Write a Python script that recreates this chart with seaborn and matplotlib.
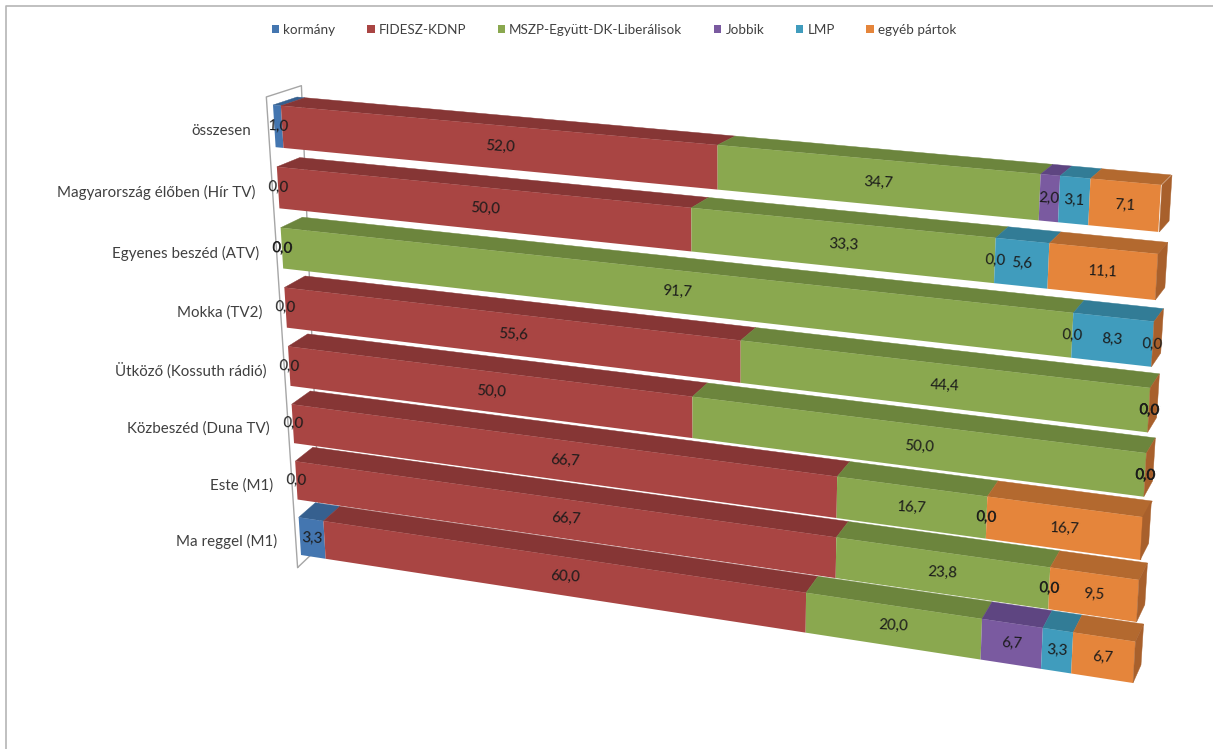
import numpy as np
import pandas as pd
import seaborn as sns
import matplotlib
matplotlib.use('Agg')
import matplotlib.pyplot as plt
from matplotlib.lines import Line2D
from matplotlib.patches import Polygon
from matplotlib.transforms import Transform, IdentityTransform

# Values
shows = ['összesen', 'Magyarország élőben (Hír TV)', 'Egyenes beszéd (ATV)', 'Mokka (TV2)',
         'Ütköző (Kossuth rádió)', 'Közbeszéd (Duna TV)', 'Este (M1)', 'Ma reggel (M1)']
kormany = [1.0, 0.0, 0.0, 0.0, 0.0, 0.0, 0.0, 3.3]
fidesz = [52.0, 50.0, 0.0, 55.6, 50.0, 66.7, 66.7, 60.0]
mszp = [34.7, 33.3, 91.7, 44.4, 50.0, 16.7, 23.8, 20.0]
jobbik = [2.0, 0.0, 0.0, 0.0, 0.0, 0.0, 0.0, 6.7]
lmp = [3.1, 5.6, 8.3, 0.0, 0.0, 0.0, 0.0, 3.3]
egyeb = [7.1, 11.1, 0.0, 0.0, 0.0, 16.7, 9.5, 6.7]

series_names = ['kormány', 'FIDESZ-KDNP', 'MSZP-Együtt-DK-Liberálisok', 'Jobbik', 'LMP', 'egyéb pártok']
series_values = [kormany, fidesz, mszp, jobbik, lmp, egyeb]
front_colors = ['#4476b0', '#a94543', '#8aa84f', '#7a5aa0', '#409cbd', '#e5853b']
top_colors = ['#36608f', '#863635', '#6c853d', '#5e4581', '#327c96', '#b3692f']
side_color = '#a8602c'

W, H = 1213, 749
BAR = 0.68  # bar thickness in row units


class Perspective(Transform):
    """Maps (value, row) on a plane of the 3D box to display pixels."""
    input_dims = 2
    output_dims = 2
    is_affine = False

    def __init__(self, corners):
        super().__init__()
        lo, hi = -BAR / 2, len(shows) - 1 + BAR / 2
        src = [(0, lo), (100, lo), (0, hi), (100, hi)]
        A, b = [], []
        for (u, v), (x, y) in zip(src, corners):
            A.append([u, v, 1, 0, 0, 0, -u * x, -v * x])
            A.append([0, 0, 0, u, v, 1, -u * y, -v * y])
            b += [x, y]
        self.m = np.append(np.linalg.solve(np.array(A, float), np.array(b, float)), 1).reshape(3, 3)

    def transform_non_affine(self, values):
        pts = np.column_stack([values, np.ones(len(values))]) @ self.m.T
        out = pts[:, :2] / pts[:, 2:]
        return np.column_stack([out[:, 0], H - out[:, 1]])


# picture positions of the box corners: top left, top right, bottom left, bottom right
front = Perspective([(273, 105), (1162, 185), (301, 555), (1133, 683)])
back = Perspective([(297, 97), (1172, 175), (317, 540), (1141, 665)])


def face(v0, r0, v1, r1, plane0=front, plane1=back):
    return np.vstack([plane0.transform(np.array([[v0, r0], [v1, r1]])),
                      plane1.transform(np.array([[v1, r1], [v0, r0]]))])


sns.set_theme(style='white')
plt.rcParams['font.family'] = ['Lato', 'DejaVu Sans']

fig = plt.figure(figsize=(W / 100, H / 100), dpi=100)
ax = fig.add_axes([0, 0, 1, 1])

df = pd.DataFrame(dict(zip(series_names, series_values)))
df['show'] = shows
lefts = np.zeros(len(shows))
starts = []
for name, col in zip(series_names, front_colors):
    starts.append(lefts.copy())
    sns.barplot(data=df, x=name, y='show', order=shows, left=lefts, color=col, saturation=1,
                width=BAR, orient='h', errorbar=None, linewidth=0, label=name, ax=ax)
    lefts = lefts + df[name].values

handles, labels = ax.get_legend_handles_labels()
bars = list(ax.patches)

# Send every bar through the perspective and layer rows from back to front
for k, bar in enumerate(bars):
    row = k % len(shows)
    bar.set_transform(front)
    bar.set_zorder(10 + 3 * row + 1)
    bar.set_clip_on(False)
    bar.set_antialiased(True)

for s, (vals, top_col) in enumerate(zip(series_values, top_colors)):
    for row, v in enumerate(vals):
        if v > 0:
            x0 = starts[s][row]
            ax.add_patch(Polygon(face(x0, row - BAR / 2, x0 + v, row - BAR / 2), closed=True, fc=top_col,
                                 ec=top_col, lw=0.3, transform=IdentityTransform(), zorder=10 + 3 * row))

# End caps
for row in range(len(shows)):
    xy = np.vstack([front.transform(np.array([[100, row - BAR / 2], [100, row + BAR / 2]])),
                    back.transform(np.array([[100, row + BAR / 2], [100, row - BAR / 2]]))])
    ax.add_patch(Polygon(xy, closed=True, fc=side_color, ec=side_color, lw=0.3,
                         transform=IdentityTransform(), zorder=10 + 3 * row + 1))

# Value labels
for s, vals in enumerate(series_values):
    for row, v in enumerate(vals):
        x0 = starts[s][row]
        ends = front.transform(np.array([[x0, row], [x0 + v, row]]))
        cx, cy = ends.mean(axis=0)
        ax.text(cx, cy, f'{v:.1f}'.replace('.', ','), transform=IdentityTransform(), ha='center', va='center',
                fontsize=10.8, color='#1a1a1a', rotation=-3, zorder=60)

# Category labels
for row, show in enumerate(shows):
    ax.annotate(show, xy=(0, row), xycoords=front, xytext=(-16.5, -3.5), textcoords='offset points',
                ha='right', va='center', fontsize=10.9, color='#404040')

# Thin outline of the side wall
wall_lo, wall_hi = -0.5, len(shows) - 0.5
p_f = front.transform(np.array([[0, wall_lo], [0, wall_hi]]))
p_b = back.transform(np.array([[0, wall_lo], [0, wall_hi]]))
wall_front = p_f + 0.25 * (p_f - p_b)
wall_back = p_b + 0.2 * (p_b - p_f)
wall = np.vstack([wall_front[1], wall_front[0], wall_back[0], wall_back[1], wall_front[1]])
ax.add_line(Line2D(wall[:, 0], wall[:, 1], color='#a6a6a6', lw=1, transform=IdentityTransform(), zorder=5))

ax.legend(handles, labels, loc='center', bbox_to_anchor=(614 / W, 1 - 30 / H), bbox_transform=fig.transFigure,
          ncol=6, frameon=False, fontsize=9.7, handlelength=0.55, handleheight=0.55, handletextpad=0.3,
          columnspacing=2.35, labelcolor='#404040')
ax.set_axis_off()

# Chart frame
fig.add_artist(Line2D([6 / W, 6 / W, 1], [0, 1 - 6 / H, 1 - 6 / H], color='#b5b5b5', lw=1.2))

fig.savefig('out.png', dpi=100)
